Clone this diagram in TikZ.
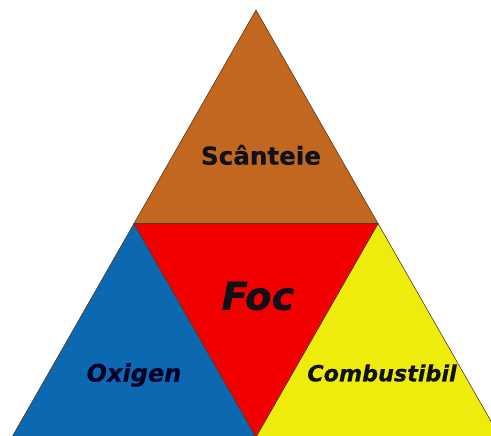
\documentclass[tikz,border=0pt]{standalone}
\usepackage{fontspec}
\setmainfont{DejaVu Sans}[BoldFeatures={FakeBold=0.5}, BoldItalicFeatures={FakeBold=0.5}]
\usepackage{xcolor}
\usetikzlibrary{positioning}

\definecolor{sparkbrown}{HTML}{C1671F}
\definecolor{firered}{HTML}{F20000}
\definecolor{oxyblue}{HTML}{0D68B2}
\definecolor{fuelyellow}{HTML}{EEEC0C}
\definecolor{labelink}{HTML}{101018}

\begin{document}
\begin{tikzpicture}[
    x=0.03cm, y=-0.03cm,
    part/.style={draw=black!55!brown, line width=0.5pt, line join=round},
    label/.style={text=labelink, font=\bfseries\itshape, inner sep=0pt}
]
\useasboundingbox (0,0) rectangle (491,435);
\clip (0,0) rectangle (491,435);
% corners and midpoints of the fire triangle
\coordinate (top) at (256,10);
\coordinate (left) at (12,437);
\coordinate (right) at (500,437);
\coordinate (midL) at (134,223.5);
\coordinate (midR) at (378,223.5);
\coordinate (midB) at (256,437);

\fill[white] (0,0) rectangle (491,435);
\draw[part, fill=sparkbrown] (top) -- (midR) -- (midL) -- cycle;
\draw[part, fill=oxyblue] (midL) -- (midB) -- (left) -- cycle;
\draw[part, fill=fuelyellow] (midR) -- (right) -- (midB) -- cycle;
\draw[part, fill=firered] (midL) -- (midR) -- (midB) -- cycle;

% labels
\node[label, font=\bfseries\fontsize{21}{24}\selectfont] (spark) at (261,155) {Scânteie};
\node[label, font=\bfseries\itshape\fontsize{33}{38}\selectfont] (fire) at (258,296) {Foc};
\node[label, text=blue!15!black, font=\bfseries\itshape\fontsize{20.5}{24}\selectfont] (oxygen) at (134,375) {Oxigen};
\node[label, font=\bfseries\itshape\fontsize{19}{22}\selectfont] (fuel) at (382,373) {Combustibil};
\end{tikzpicture}
\end{document}
